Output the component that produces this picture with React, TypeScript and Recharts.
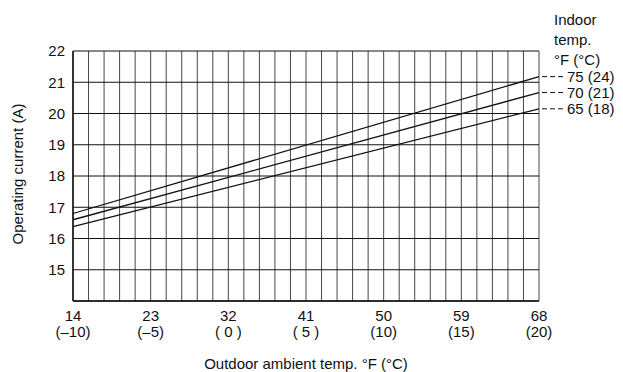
import { LineChart, Line, XAxis, YAxis, CartesianGrid, LabelList } from 'recharts';

// outdoor temp grid, one line per °C
const OUTDOOR_C = [
  -10, -9, -8, -7, -6, -5, -4, -3, -2, -1, 0, 1, 2, 3, 4, 5, 6, 7, 8, 9, 10,
  11, 12, 13, 14, 15, 16, 17, 18, 19, 20,
];
const LABEL_F = ['14', '23', '32', '41', '50', '59', '68'];
const LABEL_C = ['(–10)', '(–5)', '( 0 )', '( 5 )', '(10)', '(15)', '(20)'];
const Y_TICKS = [14, 15, 16, 17, 18, 19, 20, 21, 22];

const OUTDOOR_F = [14, 68];
const CURRENT_75 = [16.8, 21.18];
const CURRENT_70 = [16.6, 20.67];
const CURRENT_65 = [16.38, 20.15];
const SERIES_LABELS = ['75 (24)', '70 (21)', '65 (18)'];

const data = OUTDOOR_F.map((f, i) => ({
  f,
  t75: CURRENT_75[i],
  t70: CURRENT_70[i],
  t65: CURRENT_65[i],
}));

const xTicks = OUTDOOR_C.map((c) => c * 1.8 + 32);

const FONT = "'Liberation Sans', Arial, sans-serif";
const INK = '#111';
const FS = 15;

function XTick(props: any) {
  const { x, y, index } = props;
  const c = OUTDOOR_C[index];
  if (c % 5 !== 0) return null;
  const k = (c + 10) / 5;
  return (
    <g>
      <text x={x} y={y + 11.5} textAnchor="middle" fontSize={FS} fontFamily={FONT} fill={INK}>
        {LABEL_F[k]}
      </text>
      <text x={x} y={y + 28} textAnchor="middle" fontSize={FS} fontFamily={FONT} fill={INK}>
        {LABEL_C[k]}
      </text>
    </g>
  );
}

function endLabel(text: string) {
  return (props: any) => {
    const { x, y, index } = props;
    if (index !== OUTDOOR_F.length - 1) return null;
    return (
      <g>
        <line x1={x + 3} y1={y} x2={x + 25} y2={y} stroke={INK} strokeWidth={1} strokeDasharray="5 3" />
        <text x={x + 28} y={y + 5} fontSize={FS} fontFamily={FONT} fill={INK}>
          {text}
        </text>
      </g>
    );
  };
}

export default function App() {
  return (
    <div style={{ position: 'absolute', left: 0, top: 0, width: 623, height: 372, background: '#fff' }}>
      <LineChart width={623} height={372} data={data} margin={{ top: 51, right: 84, bottom: 31, left: 33 }}>
        <CartesianGrid horizontal={false} stroke="#333" strokeWidth={1} strokeOpacity={0.9} />
        <CartesianGrid vertical={false} stroke={INK} strokeWidth={1} />
        <XAxis
          dataKey="f"
          type="number"
          domain={[14, 68]}
          ticks={xTicks}
          interval={0}
          height={40}
          tick={<XTick />}
          tickLine={false}
          axisLine={{ stroke: INK, strokeWidth: 1.5 }}
        />
        <YAxis
          type="number"
          domain={[14, 22]}
          ticks={Y_TICKS}
          interval={0}
          width={40}
          tickLine={false}
          tickMargin={2}
          tickFormatter={(v: number) => (v === 14 ? '' : String(v))}
          tick={{ fill: INK, fontSize: FS, fontFamily: FONT }}
          axisLine={{ stroke: INK, strokeWidth: 1.5 }}
        />
        <Line dataKey="t75" stroke={INK} strokeWidth={1.3} dot={false} isAnimationActive={false}>
          <LabelList content={endLabel(SERIES_LABELS[0])} />
        </Line>
        <Line dataKey="t70" stroke={INK} strokeWidth={1.3} dot={false} isAnimationActive={false}>
          <LabelList content={endLabel(SERIES_LABELS[1])} />
        </Line>
        <Line dataKey="t65" stroke={INK} strokeWidth={1.3} dot={false} isAnimationActive={false}>
          <LabelList content={endLabel(SERIES_LABELS[2])} />
        </Line>
      </LineChart>
      <div
        style={{
          position: 'absolute',
          left: 18 - 90,
          top: 174 - 9,
          width: 180,
          height: 18,
          lineHeight: '18px',
          textAlign: 'center',
          transform: 'rotate(-90deg)',
          fontFamily: FONT,
          fontSize: FS,
          color: INK,
          whiteSpace: 'nowrap',
        }}
      >
        Operating current (A)
      </div>
      <div
        style={{
          position: 'absolute',
          left: 554,
          top: 10,
          fontFamily: FONT,
          fontSize: FS,
          lineHeight: '20px',
          color: INK,
        }}
      >
        Indoor
        <br />
        temp.
        <br />
        °F (°C)
      </div>
      <div
        style={{
          position: 'absolute',
          left: 0,
          width: 612,
          top: 355,
          textAlign: 'center',
          fontFamily: FONT,
          fontSize: FS,
          lineHeight: '17px',
          color: INK,
        }}
      >
        Outdoor ambient temp. °F (°C)
      </div>
    </div>
  );
}
